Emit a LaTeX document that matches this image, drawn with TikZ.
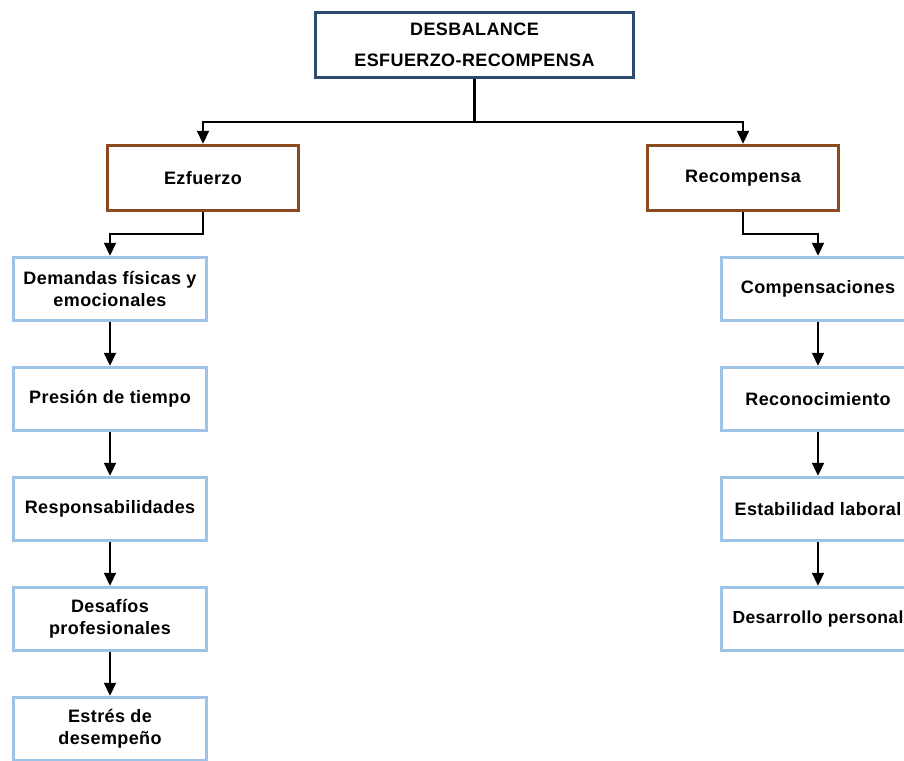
\documentclass[tikz,border=0pt]{standalone}
\usepackage{fontspec}
\setmainfont{Liberation Sans}[LetterSpace=2.2]
\usepackage{tikz}
\usetikzlibrary{arrows.meta}

\definecolor{topborder}{RGB}{47,74,112}
\definecolor{midborder}{RGB}{139,74,31}
\definecolor{leafborder}{RGB}{157,195,230}

\begin{document}
\begin{tikzpicture}[x=1pt, y=-1pt,
        box/.style={draw, line width=3.5pt, fill=white, align=center, inner sep=0pt,
            font=\bfseries\fontsize{18}{22}\selectfont},
        topbox/.style={box, draw=topborder, minimum width=318pt, minimum height=65pt,
            font=\bfseries\fontsize{18}{31}\selectfont},
        midbox/.style={box, draw=midborder, minimum width=191pt, minimum height=65pt},
        leafbox/.style={box, draw=leafborder, minimum width=193pt, minimum height=63pt},
        link/.style={line width=2.2pt, -{Triangle[width=12pt, length=13pt]}}]
        \useasboundingbox (0, 0) rectangle (904, 760);
        \clip (0, 0) rectangle (904, 760);

        \node[topbox] (top) at (474.5, 45) {DESBALANCE\\ESFUERZO-RECOMPENSA};
        \node[midbox] (esf) at (203, 178) {Ezfuerzo};
        \node[midbox] (rec) at (743, 178) {Recompensa};

        % columna del esfuerzo
        \node[leafbox] (esf1) at (110, 289) {Demandas físicas y\\emocionales};
        \node[leafbox] (esf2) at (110, 399) {Presión de tiempo};
        \node[leafbox] (esf3) at (110, 509) {Responsabilidades};
        \node[leafbox] (esf4) at (110, 619) {Desafíos\\profesionales};
        \node[leafbox] (esf5) at (110, 729) {Estrés de\\desempeño};

        % columna de la recompensa
        \node[leafbox] (rec1) at (818, 289) {Compensaciones};
        \node[leafbox] (rec2) at (818, 399) {Reconocimiento};
        \node[leafbox] (rec3) at (818, 509) {Estabilidad laboral};
        \node[leafbox, font=\bfseries\fontsize{17.5}{22}\selectfont] (rec4) at (818, 619) {Desarrollo personal};

        \draw[link] (top.south) -- (top.south |- 0, 122) -| (esf.north);
        \draw[link] (top.south) -- (top.south |- 0, 122) -| (rec.north);

        \draw[link] (esf.south) -- ++(0, 22) -| (esf1.north);
        \draw[link] (rec.south) -- ++(0, 22) -| (rec1.north);

        \draw[link] (esf1) -- (esf2);
        \draw[link] (esf2) -- (esf3);
        \draw[link] (esf3) -- (esf4);
        \draw[link] (esf4) -- (esf5);

        \draw[link] (rec1) -- (rec2);
        \draw[link] (rec2) -- (rec3);
        \draw[link] (rec3) -- (rec4);
    \end{tikzpicture}
\end{document}
